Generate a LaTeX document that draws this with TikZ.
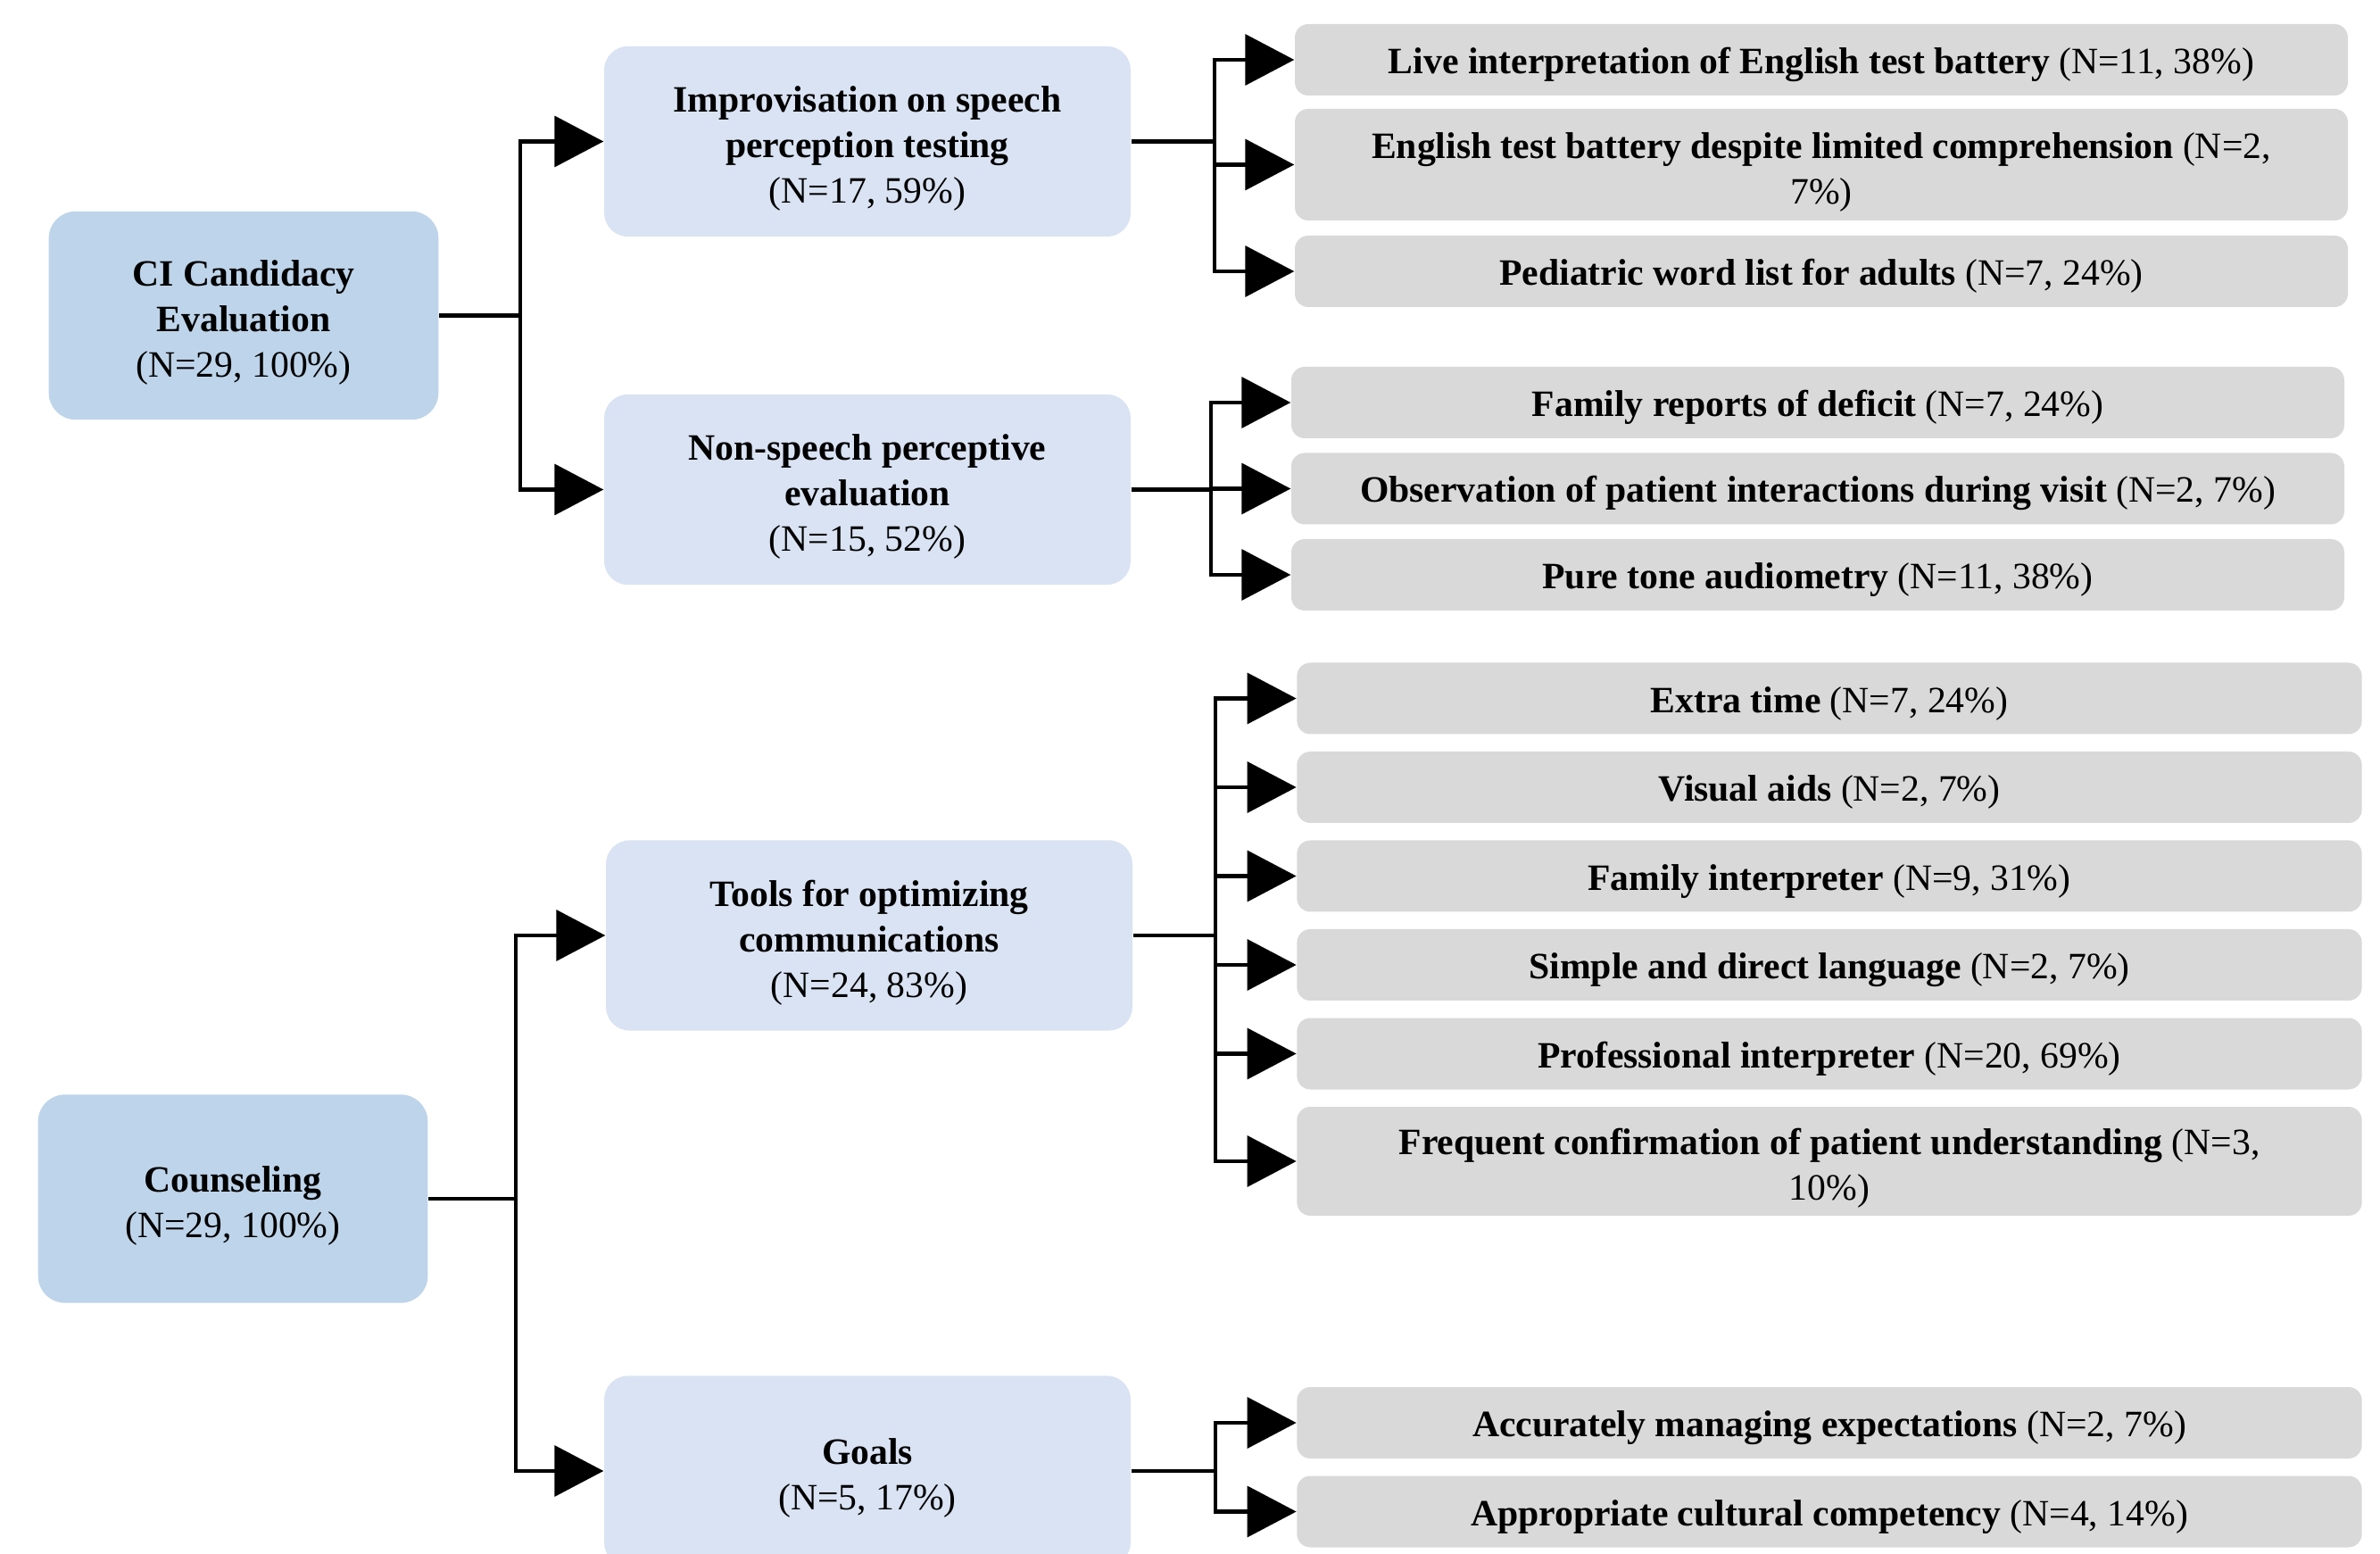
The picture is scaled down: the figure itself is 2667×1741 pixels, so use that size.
\documentclass[tikz,border=0pt]{standalone}
\usepackage{fontspec}
\setmainfont{Liberation Serif}
\usetikzlibrary{arrows.meta}
\definecolor{lblue}{HTML}{BED4EA}
\definecolor{mblue}{HTML}{DAE3F3}
\definecolor{gbox}{HTML}{D9D9D9}
\newcommand{\topstrut}{\rule{0pt}{13.5pt}}
\begin{document}
\begin{tikzpicture}[x=0.3pt,y=-0.3pt,
  every node/.style={font=\fontsize{12.5}{15.3}\selectfont, align=center, inner sep=0pt,
    execute at begin node={\rule{0pt}{12pt}}},
  lbox/.style={fill=lblue, rounded corners=9pt, minimum width=131pt, minimum height=70pt},
  mbox/.style={fill=mblue, rounded corners=8pt, minimum width=177pt, minimum height=64pt},
  rbox/.style={fill=gbox, rounded corners=4.5pt, minimum height=24pt},
  rboxa/.style={rbox, minimum width=354pt},
  rboxb/.style={rbox, minimum width=358pt},
  conn/.style={line width=1.4pt},
  arr/.style={conn, -{Triangle[length=16.5pt,width=17pt]}},
]
\clip (0,0) rectangle (2667,1741);
\fill[white] (0,0) rectangle (2667,1741);

% left level
\node[lbox] (ci) at (273,353.5) {\topstrut\textbf{CI Candidacy}\\\textbf{Evaluation}\\(N=29, 100\%)};
\node[lbox] (couns) at (261,1343) {\topstrut\textbf{Counseling}\\(N=29, 100\%)};

% middle level
\node[mbox] (imp) at (972,158.5) {\topstrut\textbf{Improvisation on speech}\\\textbf{perception testing}\\(N=17, 59\%)};
\node[mbox] (non) at (972,548.5) {\topstrut\textbf{Non-speech perceptive}\\\textbf{evaluation}\\(N=15, 52\%)};
\node[mbox] (tools) at (974,1048) {\topstrut\textbf{Tools for optimizing}\\\textbf{communications}\\(N=24, 83\%)};
\node[mbox] (goals) at (972,1648) {\topstrut\textbf{Goals}\\(N=5, 17\%)};

% right level, group 1
\node[rboxa] (live) at (2041,67) {\textbf{Live interpretation of English test battery} (N=11, 38\%)};
\node[rboxa, minimum height=37.5pt] (eng) at (2041,184.5) {\topstrut\textbf{English test battery despite limited comprehension} (N=2,\\7\%)};
\node[rboxa] (ped) at (2041,304) {\textbf{Pediatric word list for adults} (N=7, 24\%)};
% group 2
\node[rboxa] (fam) at (2037,451) {\textbf{Family reports of deficit} (N=7, 24\%)};
\node[rboxa] (obs) at (2037,547.5) {\textbf{Observation of patient interactions during visit} (N=2, 7\%)};
\node[rboxa] (pure) at (2037,644) {\textbf{Pure tone audiometry} (N=11, 38\%)};
% group 3
\node[rboxb] (extra) at (2050,782.5) {\textbf{Extra time} (N=7, 24\%)};
\node[rboxb] (visual) at (2050,882) {\textbf{Visual aids} (N=2, 7\%)};
\node[rboxb] (famint) at (2050,981.5) {\textbf{Family interpreter} (N=9, 31\%)};
\node[rboxb] (simple) at (2050,1081) {\textbf{Simple and direct language} (N=2, 7\%)};
\node[rboxb] (prof) at (2050,1180.5) {\textbf{Professional interpreter} (N=20, 69\%)};
\node[rboxb, minimum height=36.6pt] (freq) at (2050,1301) {\topstrut\textbf{Frequent confirmation of patient understanding} (N=3,\\10\%)};
% group 4
\node[rboxb] (acc) at (2050,1594) {\textbf{Accurately managing expectations} (N=2, 7\%)};
\node[rboxb] (app) at (2050,1693.5) {\textbf{Appropriate cultural competency} (N=4, 14\%)};

% split points
\coordinate (s0) at (583,353.5);
\coordinate (s1) at (578,1343);
\coordinate (g1) at (1361,158.5);
\coordinate (g2) at (1357,548.5);
\coordinate (g3) at (1362,1048);
\coordinate (g4) at (1362,1648);

% connectors
\draw[conn] (ci.east) -- (s0);
\draw[arr] (s0) |- (imp.west);
\draw[arr] (s0) |- (non.west);

\draw[conn] (couns.east) -- (s1);
\draw[arr] (s1) |- (tools.west);
\draw[arr] (s1) |- (goals.west);

\draw[conn] (imp.east) -- (g1);
\draw[arr] (g1) |- (live.west);
\draw[arr] (g1) |- (eng.west);
\draw[arr] (g1) |- (ped.west);

\draw[conn] (non.east) -- (g2);
\draw[arr] (g2) |- (fam.west);
\draw[arr] (g2) |- (obs.west);
\draw[arr] (g2) |- (pure.west);

\draw[conn] (tools.east) -- (g3);
\draw[arr] (g3) |- (extra.west);
\draw[arr] (g3) |- (visual.west);
\draw[arr] (g3) |- (famint.west);
\draw[arr] (g3) |- (simple.west);
\draw[arr] (g3) |- (prof.west);
\draw[arr] (g3) |- (freq.west);

\draw[conn] (goals.east) -- (g4);
\draw[arr] (g4) |- (acc.west);
\draw[arr] (g4) |- (app.west);
\end{tikzpicture}
\end{document}
